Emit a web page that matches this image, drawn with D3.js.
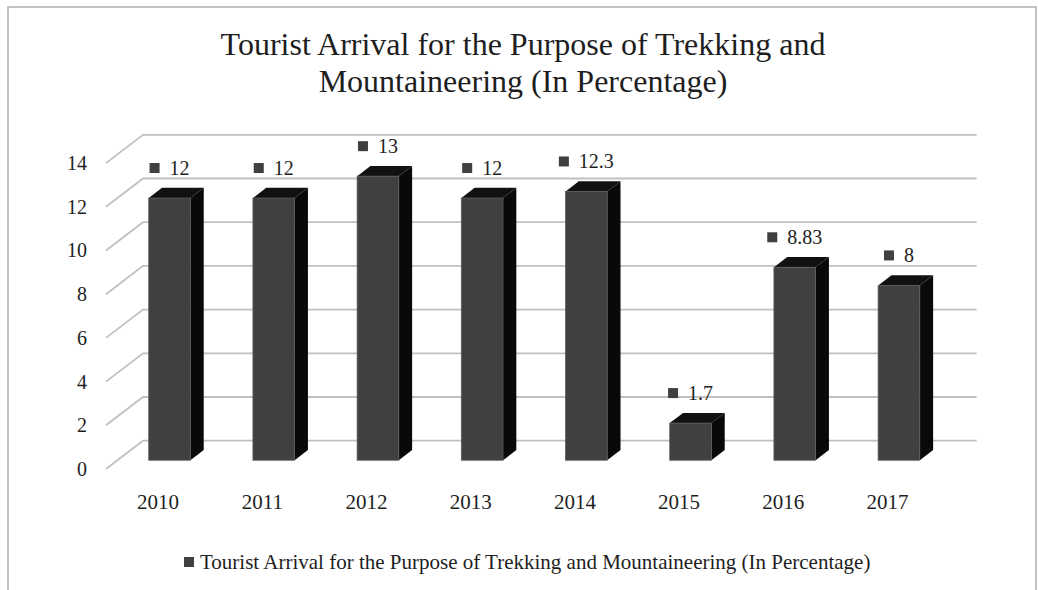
<!DOCTYPE html>
<html>
<head>
<meta charset="utf-8">
<script src="https://cdn.jsdelivr.net/npm/d3@7"></script>
<style>
  html, body { margin: 0; padding: 0; background: #ffffff; }
  svg { display: block; }
  text { font-family: "Liberation Serif", "Times New Roman", serif; fill: #1e1e1e; }
</style>
</head>
<body>
<svg id="chart" width="1038" height="590"></svg>
<script>
// Share of tourist arrivals travelling for trekking and mountaineering (%)
const years = ["2010", "2011", "2012", "2013", "2014", "2015", "2016", "2017"];
const shares = [12, 12, 13, 12, 12.3, 1.7, 8.83, 8];
const yTicks = [0, 2, 4, 6, 8, 10, 12, 14];
const titleLines = [
  "Tourist Arrival for the Purpose of Trekking and",
  "Mountaineering (In Percentage)"
];
const seriesName = "Tourist Arrival for the Purpose of Trekking and Mountaineering (In Percentage)";

const svg = d3.select("#chart");

// Frame around the whole chart
svg.append("rect")
  .attr("x", 8).attr("y", 7)
  .attr("width", 1028).attr("height", 600)
  .attr("fill", "none")
  .attr("stroke", "#b5b5b5")
  .attr("stroke-width", 1.6);

// Title
svg.append("g").selectAll("text")
  .data(titleLines)
  .join("text")
  .attr("x", 523)
  .attr("y", (d, i) => 55 + i * 37)
  .attr("text-anchor", "middle")
  .attr("font-size", 32)
  .text(d => d);

// 3-D floor geometry: front edge of the floor and the oblique depth vector
const floorX0 = 106, floorX1 = 939.6, floorY = 469;
const depth = { dx: 37, dy: -28.3 };
const barFront = 0.31;   // where the bar's front face sits along the depth
const barDepth = 0.36;   // bar thickness as a fraction of the floor depth

const x = d3.scaleBand()
  .domain(years)
  .range([floorX0, floorX1])
  .paddingInner(0.6)
  .paddingOuter(0.3);

const y = d3.scaleLinear()
  .domain([0, 14])
  .range([floorY, floorY - 14 * 21.85]);

// Gridlines: left side wall (diagonal) and back wall (horizontal)
const grid = svg.append("g")
  .attr("stroke", "#c0c0c0")
  .attr("stroke-width", 1.8)
  .attr("fill", "none");

grid.selectAll("path")
  .data(yTicks)
  .join("path")
  .attr("d", v => {
    const yf = y(v);
    return `M${floorX0},${yf}L${floorX0 + depth.dx},${yf + depth.dy}L${floorX1 + depth.dx},${yf + depth.dy}`;
  });

// Value axis labels (front plane)
const yAxis = svg.append("g")
  .attr("transform", "translate(96,0)")
  .call(d3.axisLeft(y).tickValues(yTicks).tickSize(0).tickPadding(9).tickFormat(d3.format("d")));
yAxis.select(".domain").remove();
yAxis.selectAll("text")
  .attr("font-family", "Liberation Serif, Times New Roman, serif")
  .attr("font-size", 20)
  .attr("fill", "#1e1e1e");

// Category axis labels (front floor edge)
const xAxis = svg.append("g")
  .attr("transform", `translate(0,${floorY})`)
  .call(d3.axisBottom(x).tickSize(0).tickPadding(25));
xAxis.select(".domain").remove();
xAxis.selectAll("text")
  .attr("font-family", "Liberation Serif, Times New Roman, serif")
  .attr("font-size", 21)
  .attr("fill", "#1e1e1e");

// Bars: front face, right side face and top face
const offX = barFront * depth.dx, offY = barFront * depth.dy;
const bdx = barDepth * depth.dx, bdy = barDepth * depth.dy;
const bw = x.bandwidth();

const bars = svg.append("g").selectAll("g")
  .data(years.map((yr, i) => ({ year: yr, value: shares[i] })))
  .join("g");

bars.append("path")
  .attr("fill", "#090909")
  .attr("d", d => {
    const x1 = x(d.year) + offX + bw;
    const yt = y(d.value) + offY, yb = y(0) + offY;
    return `M${x1},${yb}L${x1 + bdx},${yb + bdy}L${x1 + bdx},${yt + bdy}L${x1},${yt}Z`;
  });

bars.append("path")
  .attr("fill", "#111111")
  .attr("d", d => {
    const x0 = x(d.year) + offX, x1 = x0 + bw;
    const yt = y(d.value) + offY;
    return `M${x0},${yt}L${x0 + bdx},${yt + bdy}L${x1 + bdx},${yt + bdy}L${x1},${yt}Z`;
  });

bars.append("rect")
  .attr("x", d => x(d.year) + offX)
  .attr("y", d => y(d.value) + offY)
  .attr("width", bw)
  .attr("height", d => y(0) - y(d.value))
  .attr("fill", "#404040")
  .attr("stroke", "#5c5c5c")
  .attr("stroke-width", 0.8);

// Data labels with legend key, centred above each bar
const lab = bars.append("g");
lab.append("rect")
  .attr("width", 10).attr("height", 10)
  .attr("fill", "#404040");
lab.append("text")
  .attr("x", 20)
  .attr("y", 12)
  .attr("font-size", 20)
  .text(d => String(d.value));
lab.each(function(d) {
  const g = d3.select(this);
  const w = 20 + g.select("text").node().getComputedTextLength();
  const cx = x(d.year) + offX + bw / 2;
  const cy = y(d.value) + offY - 30;
  g.attr("transform", `translate(${cx - w / 2},${cy - 5})`);
});

// Legend
const legend = svg.append("g").attr("transform", "translate(184,557)");
legend.append("rect")
  .attr("width", 10).attr("height", 10)
  .attr("fill", "#404040");
legend.append("text")
  .attr("x", 16)
  .attr("y", 12)
  .attr("font-size", 21)
  .text(seriesName);
</script>
</body>
</html>
